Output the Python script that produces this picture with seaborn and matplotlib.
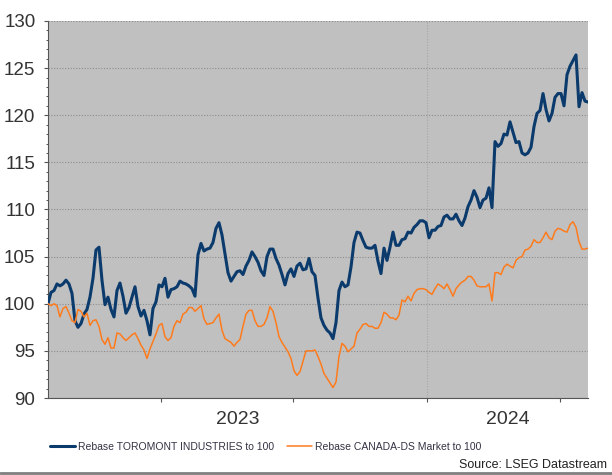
import numpy as np
import pandas as pd
import matplotlib.pyplot as plt
import matplotlib.dates as mdates
import matplotlib.transforms as mtransforms
from matplotlib.lines import Line2D
from matplotlib.ticker import MultipleLocator, NullFormatter
import seaborn as sns

# data (rebased to 100), evenly spaced in time
start_date = '2022-07-31'
end_date = '2024-08-08'
year_break = '2024-01-01'

toromont = [
    100.0, 101.2, 101.4, 102.1, 101.9, 102.1, 102.5, 102.1, 101.1, 98.2,
    97.5, 97.9, 98.9, 99.4, 100.7, 102.7, 105.7, 106.0, 102.5, 99.9,
    100.7, 99.4, 98.6, 101.4, 102.2, 100.8, 99.0, 99.6, 100.7, 101.8,
    99.7, 98.7, 99.3, 98.2, 96.7, 99.5, 100.2, 102.0, 101.8, 102.7,
    100.7, 101.5, 101.6, 101.8, 102.4, 102.2,
    102.1, 101.9, 101.6, 100.8, 105.2, 106.4, 105.6, 105.8, 105.9, 106.5,
    108.0, 108.6, 107.3, 105.3, 103.3, 102.4, 102.9, 103.4, 103.5, 103.1,
    104.0, 104.6, 105.5, 105.0, 104.4, 103.5, 103.0, 105.0, 105.8, 105.8,
    104.8, 104.1, 103.1, 102.0, 103.2, 103.7, 102.9, 104.0, 104.3, 103.6,
    103.7, 104.8, 103.4, 103.0, 100.6,
    98.5, 97.7, 97.2, 96.9, 96.3, 98.0, 101.4, 102.3, 101.8, 102.0,
    103.9, 106.5, 107.6, 107.5, 106.7, 106.0, 105.9, 105.9, 106.2, 104.5,
    103.2, 105.9, 104.6, 106.0, 107.6, 106.2, 106.2, 106.8, 106.9, 107.6,
    107.5, 108.1, 108.4, 108.8, 108.8, 108.6, 107.0, 107.8, 107.8, 108.2,
    108.3, 109.2, 109.4, 109.0, 109.0,
    109.5, 108.8, 108.3, 109.1, 110.3, 111.0, 112.0, 111.3, 110.2, 111.0,
    111.2, 112.3, 110.2, 117.2, 116.7, 117.0, 118.0, 117.9, 119.3, 118.2,
    117.1, 117.2, 116.0, 115.8, 116.0, 116.6, 118.8, 120.2, 120.5, 122.3,
    120.6, 119.4, 120.2, 121.9, 122.3, 122.3, 121.0, 124.3, 125.2, 125.8,
    126.4, 120.9, 122.4, 121.5, 121.4,
]

canada_ds = [
    100.0, 99.8, 100.0, 99.8, 98.6, 99.5, 99.7, 99.0, 98.2, 98.0,
    99.4, 99.2, 98.6, 99.0, 97.7, 98.2, 98.3, 97.6, 96.2, 95.7,
    96.4, 95.3, 95.3, 96.9, 96.8, 96.4, 96.1, 96.4, 96.7, 96.9,
    96.3, 95.6, 95.1, 94.2, 95.2, 96.0, 96.8, 97.7, 97.9, 96.5,
    96.1, 96.4, 97.6, 98.2, 98.0, 98.9,
    99.1, 99.6, 99.6, 99.2, 99.5, 99.8, 98.4, 97.8, 97.9, 98.0,
    98.5, 98.9, 97.2, 96.3, 96.1, 95.9, 95.5, 95.9, 96.2, 97.6,
    98.9, 99.3, 99.3, 98.2, 97.6, 97.6, 97.8, 98.5, 99.7, 99.2,
    98.0, 96.5, 95.9, 95.4, 94.9, 94.2, 92.9, 92.4,
    92.8, 93.9, 95.0, 95.0, 95.0, 95.1, 94.4,
    93.6, 92.6, 92.1, 91.6, 91.1, 91.7, 94.4,
    95.8, 95.5, 94.9, 95.2, 95.5, 96.9, 97.3, 97.8,
    97.9, 97.6, 97.6, 97.4, 97.4, 98.0, 99.1, 98.9, 98.5, 98.5,
    98.3, 98.8, 100.4, 100.2, 100.8, 100.3, 101.1, 101.5, 101.6, 101.6,
    101.5, 101.2, 101.0, 101.6, 102.1, 101.9, 101.6, 102.1, 101.5, 100.8,
    101.6, 102.0, 102.3, 102.5, 102.9, 102.9, 102.5, 101.9, 101.8, 101.8,
    101.8, 102.1, 100.3, 103.3, 103.3, 103.1, 103.9, 104.2, 104.0, 103.8,
    104.6, 104.9, 105.0, 105.7, 105.8, 106.1, 106.8, 106.5, 106.5, 107.0,
    107.6, 107.0, 106.8, 107.7, 108.0, 107.9, 107.7, 107.6, 108.4, 108.7,
    108.1, 106.6, 105.8, 105.8, 105.9,
]

series_labels = ['Rebase TOROMONT INDUSTRIES to 100', 'Rebase CANADA-DS Market to 100']
series_colors = ['#0b3a6c', '#ff7b1c']

dates = pd.date_range(start_date, end_date, periods=len(toromont))
df = pd.DataFrame({'Date': dates, 'toromont': toromont, 'canada': canada_ds})

sns.set_style('ticks')
plt.rcParams['font.family'] = ['Liberation Sans', 'DejaVu Sans']

fig = plt.figure(figsize=(6.12, 4.75), dpi=100)
ax = fig.add_axes([0.0784, 0.1621, 0.8824, 0.7937])
ax.set_facecolor('#c0c0c0')

sns.lineplot(data=df, x='Date', y='toromont', color=series_colors[0], linewidth=2.2,
             label=series_labels[0], ax=ax, zorder=3)
sns.lineplot(data=df, x='Date', y='canada', color=series_colors[1], linewidth=1.1,
             label=series_labels[1], ax=ax, zorder=3)

ax.set_xlim(dates[0], dates[-1])
ax.set_ylim(90, 130)
ax.set_xlabel('')
ax.set_ylabel('')

# axes styling
for side in ['top', 'right']:
    ax.spines[side].set_visible(False)
ax.spines['left'].set_color('#555555')
ax.spines['bottom'].set_color('#555555')
ax.spines['left'].set_linewidth(0.8)
ax.spines['bottom'].set_linewidth(0.8)

ax.yaxis.set_major_locator(MultipleLocator(5))
ax.yaxis.set_minor_locator(MultipleLocator(1))
ax.tick_params(axis='y', which='major', length=3, width=0.8, color='#555555',
               labelsize=13.5, labelcolor='#333333', pad=6)
ax.tick_params(axis='y', which='minor', length=1.6, width=0.7, color='#555555')

ax.xaxis.set_major_locator(mdates.MonthLocator(bymonth=[1, 7]))
ax.xaxis.set_major_formatter(NullFormatter())
ax.tick_params(axis='x', which='major', length=3, width=0.8, color='#555555')

ax.yaxis.grid(True, linestyle=(0, (1, 1.5)), color='#8c8c8c', linewidth=0.8)
ax.axvline(pd.Timestamp(year_break), linestyle=(0, (1, 1.5)), color='#a6a6a6',
           linewidth=0.8, zorder=1)
ax.set_axisbelow(True)

# year labels centred on their spans
trans = mtransforms.blended_transform_factory(ax.transData, ax.transAxes)
brk = pd.Timestamp(year_break)
mid_2023 = dates[0] + (brk - dates[0]) / 2
mid_2024 = brk + (dates[-1] - brk) / 2
ax.text(mid_2023, -0.058, '2023', transform=trans, ha='center', va='center',
        fontsize=14, color='#333333')
ax.text(mid_2024, -0.058, '2024', transform=trans, ha='center', va='center',
        fontsize=14, color='#333333')

leg = ax.legend(loc='center left', bbox_to_anchor=(50 / 612, 0.059),
                bbox_transform=fig.transFigure, ncol=2, frameon=False,
                fontsize=7.5, handlelength=2.4, handletextpad=0.3,
                columnspacing=1.2, borderaxespad=0, borderpad=0)
for txt in leg.get_texts():
    txt.set_color('#333344')

fig.text(0.992, 0.021, 'Source: LSEG Datastream', ha='right', va='center',
         fontsize=9, color='#222222')
fig.add_artist(Line2D([0, 1], [0.004, 0.004], transform=fig.transFigure,
                      color='#7f7f7f', linewidth=2))

fig.savefig('out.png', dpi=100)
